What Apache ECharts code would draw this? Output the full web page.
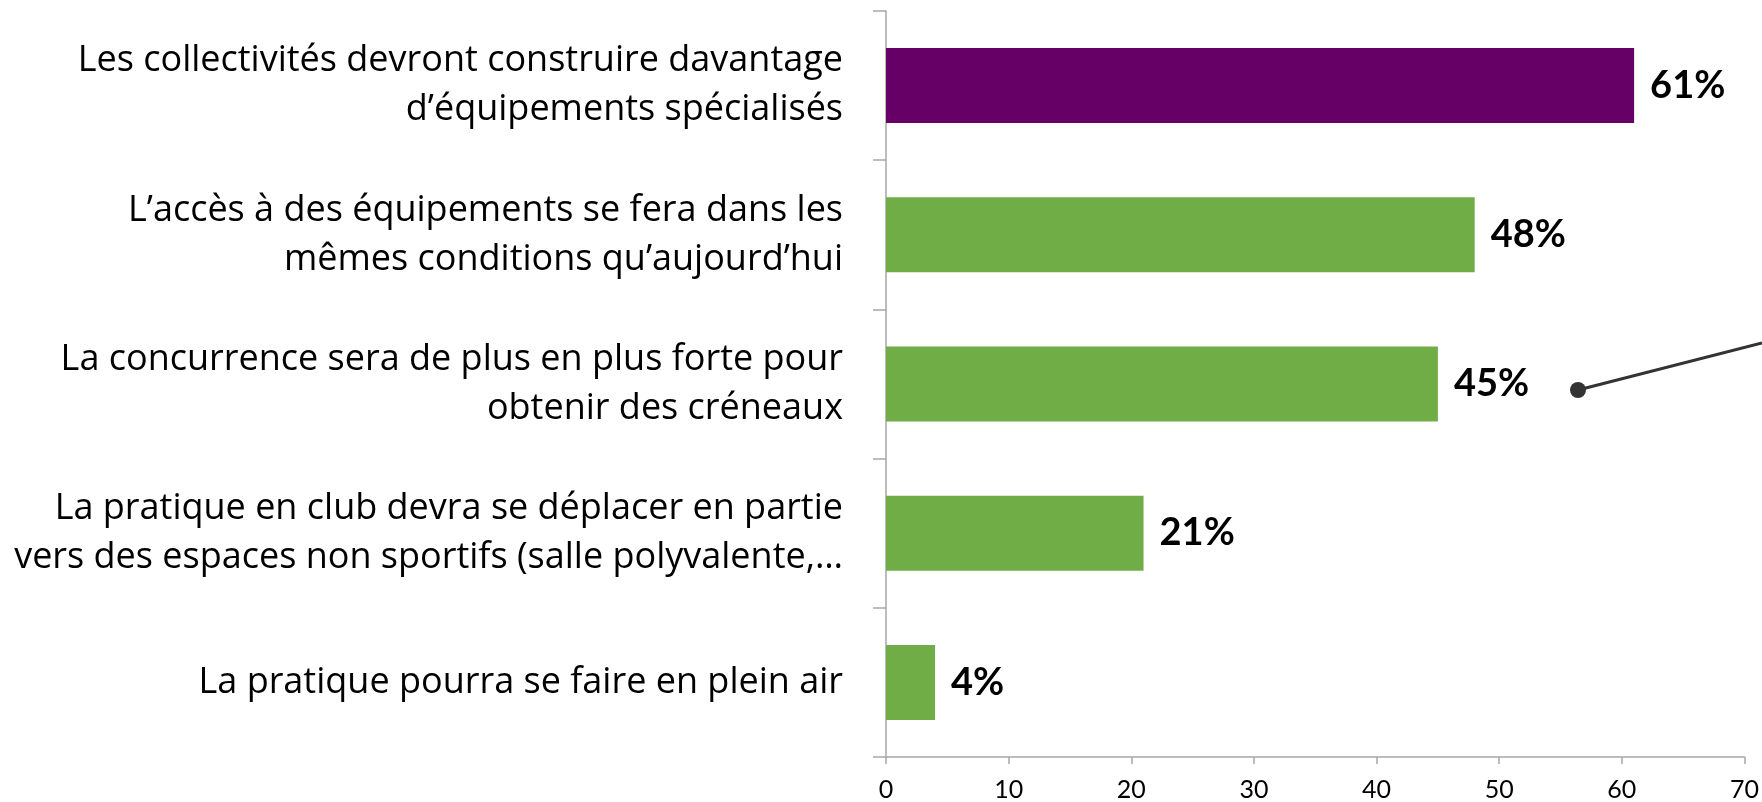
<!DOCTYPE html>
<html>
<head>
<meta charset="utf-8">
<script src="https://cdn.jsdelivr.net/npm/echarts@6/dist/echarts.min.js"></script>
<style>
  html, body { margin: 0; padding: 0; background: #fff; }
  #chart { width: 1762px; height: 802px; }
</style>
</head>
<body>
<div id="chart"></div>
<script>
const categories = [
    'Les collectivités devront construire davantage\nd\u2019équipements spécialisés',
    'L\u2019accès à des équipements se fera dans les\nmêmes conditions qu\u2019aujourd\u2019hui',
    'La concurrence sera de plus en plus forte pour\nobtenir des créneaux',
    'La pratique en club devra se déplacer en partie\nvers des espaces non sportifs (salle polyvalente,\u2026',
    'La pratique pourra se faire en plein air'
]
const values = [61, 48, 45, 21, 4]
const barColors = ['#660066', '#70AD47', '#70AD47', '#70AD47', '#70AD47']
const xTicks = { min: 0, max: 70, interval: 10 }

const font = '"Open Sans", Lato, sans-serif'
const axisGray = '#a6a6a6'

const myChart = echarts.init(document.getElementById('chart'))
const option = {
    animation: false,
    grid: {
        left: 886,
        right: 17,
        top: 11,
        bottom: 44
    },
    xAxis: {
        type: 'value',
        min: xTicks.min,
        max: xTicks.max,
        interval: xTicks.interval,
        splitLine: { show: false },
        axisLine: { show: true, lineStyle: { color: axisGray, width: 1.5 } },
        axisTick: { show: true, length: 7, lineStyle: { color: axisGray, width: 1.5 } },
        axisLabel: { color: '#000', fontFamily: 'Lato, sans-serif', fontSize: 25, margin: 20 }
    },
    yAxis: {
        type: 'category',
        inverse: true,
        data: categories,
        axisLine: { show: true, lineStyle: { color: axisGray, width: 1.5 } },
        axisTick: { show: true, length: 13, lineStyle: { color: axisGray, width: 1.5 } },
        axisLabel: {
            color: '#000',
            fontFamily: font,
            fontSize: 36,
            lineHeight: 49,
            align: 'right',
            margin: 43
        }
    },
    series: [
        {
            type: 'bar',
            barWidth: 75,
            data: values.map((v, i) => ({ value: v, itemStyle: { color: barColors[i] } })),
            label: {
                show: true,
                position: 'right',
                distance: 16,
                formatter: '{c}%',
                color: '#000',
                fontFamily: 'Lato, sans-serif',
                fontWeight: 'bold',
                fontSize: 38
            }
        }
    ],
    graphic: [
        {
            type: 'line',
            shape: { x1: 1578, y1: 390, x2: 1762, y2: 343 },
            style: { stroke: '#333', lineWidth: 3 }
        },
        {
            type: 'circle',
            shape: { cx: 1578, cy: 390, r: 8 },
            style: { fill: '#333' }
        }
    ]
}
myChart.setOption(option)
</script>
</body>
</html>
